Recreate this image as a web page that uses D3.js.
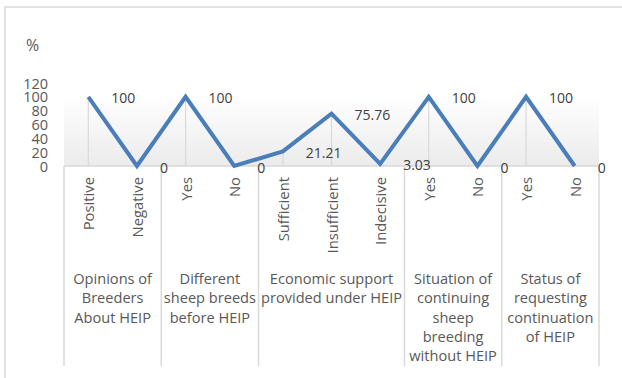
<!DOCTYPE html>
<html>
<head>
<meta charset="utf-8">
<script src="https://cdn.jsdelivr.net/npm/d3@7/dist/d3.min.js"></script>
<style>
  html, body { margin: 0; padding: 0; background: #fff; }
  svg { display: block; font-family: "Open Sans", "Liberation Sans", sans-serif; }
</style>
</head>
<body>
<svg id="chart" width="622" height="378"></svg>
<script>
// Survey answers, grouped by question
const categories = ["Positive", "Negative", "Yes", "No", "Sufficient", "Insufficient", "Indecisive", "Yes", "No", "Yes", "No"];
const values = [100, 0, 100, 0, 21.21, 75.76, 3.03, 100, 0, 100, 0];
const groupNames = [
  ["Opinions of", "Breeders", "About HEIP"],
  ["Different", "sheep breeds", "before HEIP"],
  ["Economic support", "provided under HEIP"],
  ["Situation of", "continuing", "sheep", "breeding", "without HEIP"],
  ["Status of", "requesting", "continuation", "of HEIP"]
];
const groupSizes = [2, 2, 3, 2, 2];
const yTicks = [0, 20, 40, 60, 80, 100, 120];

const svg = d3.select("#chart");
const textColor = "#595959";
const gridColor = "#d9d9d9";
const lineColor = "#4a7ebb";

const plotLeft = 64, plotRight = 599, plotTop = 83, plotBottom = 166;
const ids = categories.map((c, i) => i);
const x = d3.scaleBand().domain(ids).range([plotLeft, plotRight]);
const cx = i => x(i) + x.bandwidth() / 2;
const y = d3.scaleLinear().domain([0, 120]).range([plotBottom, plotTop]);

// chart frame (top and left edges)
svg.append("path")
  .attr("d", "M5,378V7H622")
  .attr("fill", "none").attr("stroke", gridColor).attr("stroke-width", 1.5);

// plot area background gradient
const grad = svg.append("defs").append("linearGradient")
  .attr("id", "bg").attr("x1", 0).attr("y1", 0).attr("x2", 0).attr("y2", 1);
grad.append("stop").attr("offset", "0%").attr("stop-color", "#ffffff");
grad.append("stop").attr("offset", "15%").attr("stop-color", "#ffffff");
grad.append("stop").attr("offset", "100%").attr("stop-color", "#ebebeb");
svg.append("rect")
  .attr("x", plotLeft).attr("y", y(120))
  .attr("width", plotRight - plotLeft).attr("height", y(0) - y(120))
  .attr("fill", "url(#bg)");

// "%" axis title
svg.append("text").attr("x", 26).attr("y", 45)
  .attr("dominant-baseline", "central")
  .attr("font-size", 16).attr("fill", textColor).text("%");

// y axis tick labels
svg.append("g").selectAll("text").data(yTicks).join("text")
  .attr("x", 48).attr("y", d => y(d))
  .attr("text-anchor", "end").attr("dominant-baseline", "central")
  .attr("font-size", 14.5).attr("fill", textColor)
  .text(d => d);

// drop lines from each point to the axis
svg.append("g").selectAll("line").data(values).join("line")
  .attr("x1", (d, i) => cx(i)).attr("x2", (d, i) => cx(i))
  .attr("y1", d => y(d)).attr("y2", y(0))
  .attr("stroke", gridColor).attr("stroke-width", 1.2);

// category axis line
svg.append("line")
  .attr("x1", plotLeft).attr("x2", plotRight).attr("y1", y(0)).attr("y2", y(0))
  .attr("stroke", gridColor).attr("stroke-width", 1.5);

// group separators
let acc = 0;
const bounds = [0];
groupSizes.forEach(s => { acc += s; bounds.push(acc); });
const boundX = k => k === categories.length ? plotRight : x(k);
svg.append("g").selectAll("line").data(bounds).join("line")
  .attr("x1", d => boundX(d)).attr("x2", d => boundX(d))
  .attr("y1", y(0)).attr("y2", 366)
  .attr("stroke", gridColor).attr("stroke-width", 1.5);

// rotated category labels
svg.append("g").selectAll("text").data(categories).join("text")
  .attr("transform", (d, i) => `translate(${cx(i)},177) rotate(-90)`)
  .attr("text-anchor", "end").attr("dominant-baseline", "central")
  .attr("font-size", 14.8).attr("fill", textColor)
  .text(d => d);

// group labels
groupNames.forEach((lines, g) => {
  const mid = (boundX(bounds[g]) + boundX(bounds[g + 1])) / 2;
  svg.append("g").selectAll("text").data(lines).join("text")
    .attr("x", mid).attr("y", (d, j) => 278 + j * 19.3)
    .attr("text-anchor", "middle").attr("dominant-baseline", "central")
    .attr("font-size", 14.6).attr("fill", textColor)
    .text(d => d);
});

// data line
svg.append("path").datum(values)
  .attr("d", d3.line().x((d, i) => cx(i)).y(d => y(d)))
  .attr("fill", "none").attr("stroke", lineColor)
  .attr("stroke-width", 4).attr("stroke-linejoin", "miter");

// value labels
svg.append("g").selectAll("text").data(values).join("text")
  .attr("x", (d, i) => cx(i) + 23).attr("y", d => y(d) + 1)
  .attr("dominant-baseline", "central")
  .attr("font-size", 14).attr("fill", "#404040")
  .text(d => d);
</script>
</body>
</html>
